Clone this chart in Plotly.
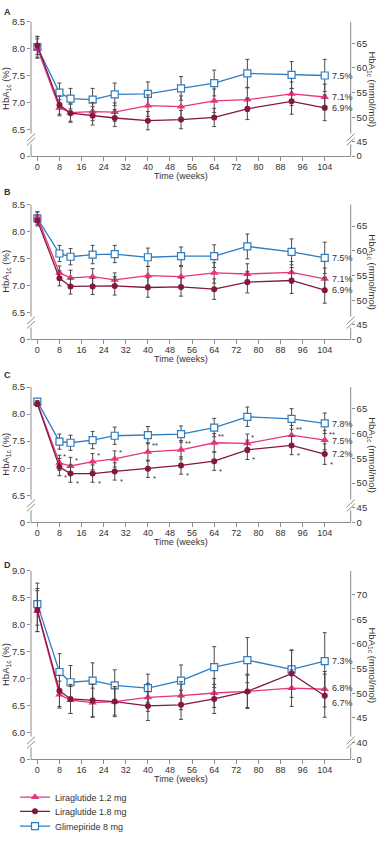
import plotly.graph_objects as go

# ---------------- data ----------------
weeks = [0, 8, 12, 20, 28, 40, 52, 64, 76, 92, 104]
x_ticks = list(range(0, 105, 8))

series_names = ["Liraglutide 1.2 mg", "Liraglutide 1.8 mg", "Glimepiride 8 mg"]

# Panel A
A_lira12 = [8.00, 6.90, 6.81, 6.83, 6.82, 6.94, 6.92, 7.03, 7.05, 7.16, 7.10]
A_lira18 = [8.06, 6.95, 6.80, 6.75, 6.71, 6.66, 6.68, 6.72, 6.88, 7.02, 6.90]
A_glim = [8.03, 7.18, 7.07, 7.05, 7.15, 7.16, 7.26, 7.36, 7.54, 7.51, 7.50]
A_lira12_err = [0.18, 0.15, 0.16, 0.17, 0.17, 0.20, 0.20, 0.22, 0.22, 0.22, 0.24]
A_lira18_err = [0.17, 0.17, 0.17, 0.17, 0.16, 0.17, 0.17, 0.17, 0.20, 0.24, 0.24]
A_glim_err = [0.19, 0.18, 0.19, 0.21, 0.21, 0.22, 0.22, 0.24, 0.26, 0.25, 0.30]
A_end_labels = ["7.1%", "6.9%", "7.5%"]

# Panel B
B_lira12 = [8.26, 7.23, 7.14, 7.16, 7.10, 7.18, 7.16, 7.23, 7.21, 7.24, 7.12]
B_lira18 = [8.20, 7.13, 6.98, 6.98, 6.99, 6.96, 6.97, 6.93, 7.06, 7.09, 6.91]
B_glim = [8.24, 7.59, 7.53, 7.57, 7.58, 7.52, 7.54, 7.54, 7.72, 7.62, 7.51]
B_lira12_err = [0.10, 0.13, 0.14, 0.15, 0.13, 0.17, 0.19, 0.19, 0.19, 0.20, 0.20]
B_lira18_err = [0.10, 0.14, 0.14, 0.15, 0.17, 0.18, 0.17, 0.19, 0.20, 0.24, 0.24]
B_glim_err = [0.12, 0.15, 0.15, 0.17, 0.16, 0.17, 0.17, 0.21, 0.23, 0.24, 0.29]
B_end_labels = ["7.1%", "6.9%", "7.5%"]

# Panel C
C_lira12 = [8.20, 7.10, 7.04, 7.12, 7.17, 7.30, 7.34, 7.47, 7.46, 7.61, 7.52]
C_lira18 = [8.19, 7.02, 6.90, 6.90, 6.94, 6.99, 7.05, 7.13, 7.34, 7.42, 7.26]
C_glim = [8.23, 7.49, 7.47, 7.52, 7.60, 7.61, 7.63, 7.75, 7.95, 7.91, 7.83]
C_lira12_err = [0.05, 0.14, 0.16, 0.15, 0.15, 0.17, 0.17, 0.17, 0.17, 0.18, 0.18]
C_lira18_err = [0.05, 0.16, 0.16, 0.16, 0.16, 0.16, 0.16, 0.17, 0.18, 0.17, 0.19]
C_glim_err = [0.05, 0.14, 0.14, 0.16, 0.16, 0.16, 0.15, 0.17, 0.18, 0.19, 0.19]
C_end_labels = ["7.5%", "7.2%", "7.8%"]
C_sig_lira12 = ["", "*", "*", "*", "*", "**", "**", "**", "*", "**", "**"]
C_sig_lira18 = ["", "*", "*", "*", "*", "*", "*", "*", "*", "*", "*"]

# Panel D
D_lira12 = [8.25, 6.70, 6.60, 6.55, 6.57, 6.65, 6.68, 6.73, 6.76, 6.82, 6.80]
D_lira18 = [8.27, 6.77, 6.62, 6.59, 6.57, 6.49, 6.51, 6.62, 6.76, 7.09, 6.68]
D_glim = [8.38, 7.12, 6.93, 6.96, 6.87, 6.82, 6.96, 7.21, 7.34, 7.17, 7.32]
D_lira12_err = [0.38, 0.25, 0.25, 0.27, 0.25, 0.26, 0.26, 0.27, 0.30, 0.34, 0.33]
D_lira18_err = [0.40, 0.29, 0.27, 0.30, 0.28, 0.27, 0.27, 0.27, 0.32, 0.44, 0.40]
D_glim_err = [0.39, 0.34, 0.31, 0.33, 0.29, 0.26, 0.29, 0.38, 0.42, 0.35, 0.53]
D_end_labels = ["6.8%", "6.7%", "7.3%"]

# axis tick labels
pct_ticks_ABC = [6.5, 7.0, 7.5, 8.0, 8.5]
pct_ticks_D = [6.0, 6.5, 7.0, 7.5, 8.0, 8.5, 9.0]
mmol_ticks_ABC = [45, 50, 55, 60, 65]
mmol_ticks_D = [40, 45, 50, 55, 60, 65, 70, 75]

# ---------------- styling ----------------
W, H = 378, 841
FONT = "Liberation Sans, Arial, sans-serif"
TXT = "#333333"
AXC = "#8c8c8c"
COL_L12 = "#e8347f"
COL_L18 = "#84173f"
COL_GLIM = "#2f7cc0"
FS = 9


def to_mmol(p):
    return (p - 2.15) * 10.929


def px_y(p):
    return 1 - p / H


panels = [
    dict(letter="A", l12=A_lira12, l18=A_lira18, gl=A_glim,
         e12=A_lira12_err, e18=A_lira18_err, eg=A_glim_err, labels=A_end_labels,
         top_px=16.0, bot_px=152.7, lo=6.0, hi=8.5, ticks=pct_ticks_ABC, mticks=mmol_ticks_ABC,
         letter_px=6, lab_shift=[0, 0, 0]),
    dict(letter="B", l12=B_lira12, l18=B_lira18, gl=B_glim,
         e12=B_lira12_err, e18=B_lira18_err, eg=B_glim_err, labels=B_end_labels,
         top_px=201.7, bot_px=339.0, lo=6.0, hi=8.5, ticks=pct_ticks_ABC, mticks=mmol_ticks_ABC,
         letter_px=189, lab_shift=[0, 0, 0]),
    dict(letter="C", l12=C_lira12, l18=C_lira18, gl=C_glim,
         e12=C_lira12_err, e18=C_lira18_err, eg=C_glim_err, labels=C_end_labels,
         top_px=387.5, bot_px=525.0, lo=6.0, hi=8.5, ticks=pct_ticks_ABC, mticks=mmol_ticks_ABC,
         letter_px=375, lab_shift=[-1, 0, -1]),
    dict(letter="D", l12=D_lira12, l18=D_lira18, gl=D_glim,
         e12=D_lira12_err, e18=D_lira18_err, eg=D_glim_err, labels=D_end_labels,
         top_px=574.3, bot_px=766.0, lo=5.5, hi=9.0, ticks=pct_ticks_D, mticks=mmol_ticks_D,
         letter_px=568, lab_shift=[1, -7, 0]),
]

x_left_px, x_right_px = 31.0, 350.7
x_dom = [x_left_px / W, x_right_px / W]
plot_w = x_right_px - x_left_px
x_range = [-2.3, 113.4]

fig = go.Figure()
shapes = []
annotations = []
layout_axes = {}

for i, p in enumerate(panels):
    n = i + 1
    xa = "x" if n == 1 else f"x{n}"
    yl_idx = 2 * i + 1
    yr_idx = 2 * i + 2
    yl = "y" if yl_idx == 1 else f"y{yl_idx}"
    yr = f"y{yr_idx}"
    xkey = "xaxis" if n == 1 else f"xaxis{n}"
    ylkey = "yaxis" if yl_idx == 1 else f"yaxis{yl_idx}"
    yrkey = f"yaxis{yr_idx}"
    dom = [px_y(p["bot_px"]), px_y(p["top_px"])]

    layout_axes[xkey] = dict(
        domain=x_dom, anchor=yl, range=x_range, tickvals=x_ticks,
        ticktext=[str(t) for t in x_ticks], ticks="outside", ticklen=4,
        ticklabelstandoff=-2,
        tickcolor=AXC, showline=True, linecolor=AXC, linewidth=1,
        showgrid=False, zeroline=False,
        tickfont=dict(size=FS, color=TXT, family=FONT),
    )
    lo, hi = p["lo"], p["hi"]
    layout_axes[ylkey] = dict(
        domain=dom, anchor=xa, range=[lo, hi],
        tickvals=[lo] + p["ticks"], ticktext=["0"] + [f"{t:.1f}" for t in p["ticks"]],
        ticks="outside", ticklen=3, tickcolor=AXC, showline=False,
        showgrid=False, zeroline=False,
        tickfont=dict(size=9.5, color=TXT, family=FONT),
    )
    layout_axes[yrkey] = dict(
        overlaying=yl, anchor=xa, side="right", range=[to_mmol(lo), to_mmol(hi)],
        tickvals=[to_mmol(lo)] + p["mticks"], ticktext=["0"] + [str(t) for t in p["mticks"]],
        ticks="outside", ticklen=3, tickcolor=AXC, showline=False,
        showgrid=False, zeroline=False,
        tickfont=dict(size=9.5, color=TXT, family=FONT),
    )

    # dummy trace to ensure right axis exists
    fig.add_trace(go.Scatter(x=[None], y=[None], xaxis=xa, yaxis=yr, showlegend=False,
                             hoverinfo="skip"))

    specs = [
        ("gl", "eg", 2, COL_GLIM, dict(symbol="square", size=7, color="white",
                                       line=dict(color=COL_GLIM, width=1.2)), "legend3"),
        ("l12", "e12", 0, COL_L12, dict(symbol="triangle-up", size=7.5, color=COL_L12,
                                        line=dict(width=0)), "legend"),
        ("l18", "e18", 1, COL_L18, dict(symbol="circle", size=6, color=COL_L18,
                                        line=dict(width=0)), "legend2"),
    ]
    for key, ekey, si, col, mk, leg in specs:
        fig.add_trace(go.Scatter(
            x=weeks, y=p[key], xaxis=xa, yaxis=yl, mode="lines+markers",
            name=series_names[si], line=dict(color=col, width=1.3), marker=mk,
            error_y=dict(type="data", array=p[ekey], color="#4a4a4a", thickness=1, width=2),
            showlegend=(i == 0), legend=leg, cliponaxis=False,
        ))

    # end labels
    end_vals = [p["l12"][-1], p["l18"][-1], p["gl"][-1]]
    for lab, v, ys in zip(p["labels"], end_vals, p["lab_shift"]):
        annotations.append(dict(x=weeks[-1], y=v, xref=xa, yref=yl, text=lab,
                                showarrow=False, xanchor="left", yanchor="middle",
                                xshift=5, yshift=ys,
                                font=dict(size=FS, color=TXT, family=FONT)))

    # axis lines with breaks
    brk_lo = lo + 0.22
    brk_hi = lo + 0.42
    for xd in (0, 1):
        shapes.append(dict(type="line", xref=f"{xa} domain", yref=yl, x0=xd, x1=xd,
                           y0=lo, y1=brk_lo, line=dict(color=AXC, width=1)))
        shapes.append(dict(type="line", xref=f"{xa} domain", yref=yl, x0=xd, x1=xd,
                           y0=brk_hi, y1=hi, line=dict(color=AXC, width=1)))
        dx = 4.0 / plot_w
        for off in (0.0, 0.08):
            shapes.append(dict(type="line", xref=f"{xa} domain", yref=yl,
                               x0=xd - dx, x1=xd + dx, y0=brk_lo - 0.02 + off,
                               y1=brk_lo + 0.12 + off, line=dict(color=AXC, width=1)))

    # axis titles
    ymid = (dom[0] + dom[1]) / 2
    annotations.append(dict(x=6 / W, y=ymid, xref="paper", yref="paper",
                            text="HbA<sub>1c</sub> (%)", textangle=-90, showarrow=False,
                            xanchor="center", yanchor="middle",
                            font=dict(size=9.5, color=TXT, family=FONT)))
    annotations.append(dict(x=372.5 / W, y=ymid, xref="paper", yref="paper",
                            text="HbA<sub>1c</sub> (mmol/mol)", textangle=90, showarrow=False,
                            xanchor="center", yanchor="middle",
                            font=dict(size=9.5, color=TXT, family=FONT)))
    annotations.append(dict(x=52, y=px_y(p["bot_px"] + 20.0), xref=xa, yref="paper",
                            text="Time (weeks)", showarrow=False,
                            xanchor="center", yanchor="middle",
                            font=dict(size=FS, color=TXT, family=FONT)))
    # panel letter
    annotations.append(dict(x=2 / W, y=px_y(p["letter_px"]), xref="paper", yref="paper",
                            text=f"<b>{p['letter']}</b>", showarrow=False,
                            xanchor="left", yanchor="middle",
                            font=dict(size=FS, color=TXT, family=FONT)))

# significance markers in panel C
for w, s12, s18, v12, v18 in zip(weeks, C_sig_lira12, C_sig_lira18, C_lira12, C_lira18):
    if s12:
        annotations.append(dict(x=w, y=v12, xref="x3", yref="y5", text=s12, showarrow=False,
                                xanchor="left", yanchor="middle", xshift=2, yshift=6,
                                font=dict(size=7.5, color=TXT, family=FONT)))
    if s18:
        annotations.append(dict(x=w, y=v18, xref="x3", yref="y5", text=s18, showarrow=False,
                                xanchor="left", yanchor="middle", xshift=3, yshift=-10,
                                font=dict(size=7.5, color=TXT, family=FONT)))

leg_common = dict(xanchor="left", yanchor="middle", bgcolor="rgba(0,0,0,0)",
                  font=dict(size=FS, color=TXT, family=FONT), borderwidth=0)

fig.update_layout(
    width=W, height=H, margin=dict(l=0, r=0, t=0, b=0),
    paper_bgcolor="white", plot_bgcolor="white",
    font=dict(family=FONT, size=FS, color=TXT),
    shapes=shapes, annotations=annotations,
    legend=dict(x=15 / W, y=px_y(804.5), **leg_common),
    legend2=dict(x=15 / W, y=px_y(819), **leg_common),
    legend3=dict(x=15 / W, y=px_y(834), **leg_common),
    **layout_axes,
)

fig.write_html(
    "out.html",
    config={"displayModeBar": False},
    post_script="document.body.style.margin='0';document.documentElement.style.margin='0';",
)
